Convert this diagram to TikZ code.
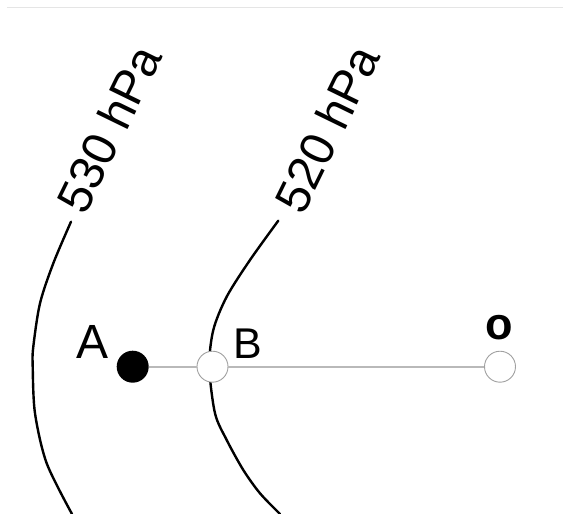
\documentclass[tikz,border=0pt]{standalone}
\usepackage{fontspec}
\setmainfont{Liberation Sans}
\usepackage{tikz}
\usetikzlibrary{positioning, calc}
\definecolor{Gris1}{RGB}{185,185,185}
\definecolor{Gris2}{RGB}{160,160,160}

\begin{document}
\begin{tikzpicture}[
  x=1pt, y=-1pt,
  %% Estilos: isobaras, puntos y rótulos
  isobara/.style={line width=2.4pt, black, line cap=round},
  lleno/.style={circle, fill=black, minimum size=32pt, inner sep=0pt},
  hueco/.style={circle, draw=Gris2, fill=white, line width=0.9pt,
                minimum size=31pt, inner sep=0pt},
  tramo/.style={line width=1.6pt, color=Gris1},
  rotulo/.style={inner sep=0pt, anchor=base},
  rotiso/.style={inner sep=0pt, rotate=64,
                 font=\fontsize{48}{48}\selectfont}
]
\useasboundingbox (0,0) rectangle (563,514);
\draw[black!10, line width=0.8pt] (7,7) -- (563,7);

%% ── Isobaras ─────────────────────────────────────────────────────────────
\draw[isobara] plot[smooth] coordinates {(71,221.7) (53.3,263.3) (40,303.3)
  (33.3,346.7) (32.7,366.7) (35,413.3) (46.7,463.3) (72,514)};
\draw[isobara] plot[smooth] coordinates {(278.3,220.7) (250,260) (226.7,296.7)
  (213.3,330) (209.3,366.7) (215,413.3) (226.7,440) (243.3,470) (260,493.3)
  (280,514)};

\node[rotiso] (iso530) at (109,129) {530 hPa};
\node[rotiso] (iso520) at (327,129) {520 hPa};

%% ── Puntos ───────────────────────────────────────────────────────────────
\node[lleno] (ptA) at (132.7,366.7) {};
\node[hueco] (ptB) at (212.5,366.7) {};
\node[hueco] (ptO) at (500,366.7) {};

\node[rotulo, font=\fontsize{48}{48}\selectfont] (labA) at (93,358.5) {A};
\node[rotulo, font=\fontsize{43}{43}\selectfont] (labB) at (247.5,358) {B};
\node[rotulo, font=\fontsize{45}{45}\selectfont\bfseries] (labO) at (499,339) {o};

%% ── Tramos ───────────────────────────────────────────────────────────────
\draw[tramo] (ptA) -- (ptB);
\draw[tramo] (ptB) -- (ptO);

\end{tikzpicture}
\end{document}
